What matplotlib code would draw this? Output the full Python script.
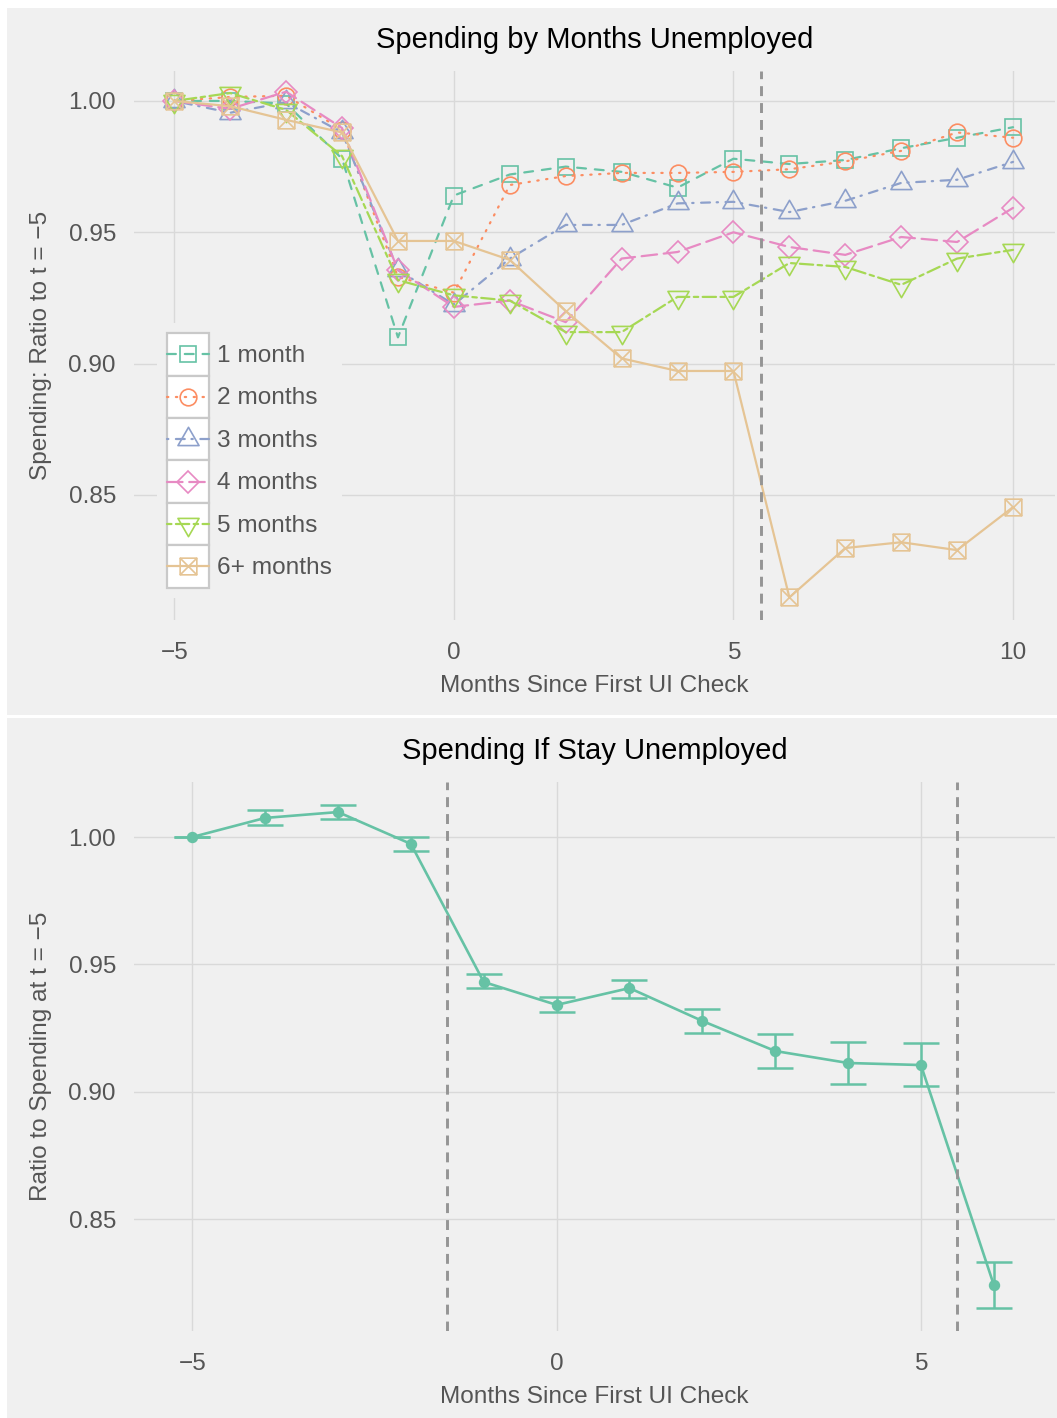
import numpy as np
import matplotlib
matplotlib.use("Agg")
import matplotlib.pyplot as plt
from matplotlib.path import Path
from matplotlib.patches import Rectangle
from matplotlib.lines import Line2D
from matplotlib.legend_handler import HandlerLine2D

plt.rcParams['font.family'] = ['Liberation Sans', 'DejaVu Sans']

# ---------------- data ----------------
months = [-5, -4, -3, -2, -1, 0, 1, 2, 3, 4, 5, 6, 7, 8, 9, 10]
group_labels = ["1 month", "2 months", "3 months", "4 months", "5 months", "6+ months"]
m1 = [1.000, 1.000, 0.999, 0.978, 0.910, 0.964, 0.972, 0.975, 0.973, 0.967, 0.978, 0.976, 0.9775, 0.982, 0.986, 0.990]
m2 = [1.000, 1.0015, 1.002, 0.989, 0.933, 0.927, 0.968, 0.9714, 0.9726, 0.9726, 0.973, 0.974, 0.977, 0.981, 0.988, 0.986]
m3 = [1.000, 0.9955, 0.9995, 0.988, 0.9356, 0.9225, 0.940, 0.9528, 0.9528, 0.961, 0.9616, 0.9577, 0.962, 0.9688, 0.970, 0.9768]
m4 = [1.000, 0.997, 1.0035, 0.9897, 0.9356, 0.9216, 0.924, 0.9158, 0.940, 0.9425, 0.950, 0.9444, 0.9414, 0.9482, 0.9463, 0.9593]
m5 = [1.000, 1.003, 0.9966, 0.979, 0.9318, 0.926, 0.924, 0.912, 0.912, 0.9254, 0.9254, 0.9383, 0.9368, 0.930, 0.940, 0.9433]
m6 = [1.000, 0.998, 0.9928, 0.988, 0.9467, 0.9467, 0.9395, 0.920, 0.902, 0.8972, 0.8972, 0.811, 0.8298, 0.832, 0.829, 0.8454]
series = [m1, m2, m3, m4, m5, m6]

stay_months = [-5, -4, -3, -2, -1, 0, 1, 2, 3, 4, 5, 6]
stay_mean = [1.000, 1.0075, 1.0098, 0.9973, 0.9431, 0.9341, 0.9407, 0.9278, 0.916, 0.9113, 0.9105, 0.8242]
stay_lo = [1.000, 1.0047, 1.0071, 0.9945, 0.9407, 0.9313, 0.9368, 0.9231, 0.9093, 0.9031, 0.9023, 0.8151]
stay_hi = [1.000, 1.0106, 1.0126, 1.000, 0.9462, 0.9372, 0.9439, 0.9325, 0.9227, 0.9195, 0.9191, 0.8332]

top_vline = [5.5]
bottom_vlines = [-1.5, 5.5]
xticks_top = [-5, 0, 5, 10]
xticks_bottom = [-5, 0, 5]
yticks = [0.85, 0.90, 0.95, 1.00]

# ---------------- styles ----------------
colors = ["#66c2a5", "#fc8d62", "#8da0cb", "#e78ac3", "#a6d854", "#e5c494"]
C = Path.CLOSEPOLY
M, L = Path.MOVETO, Path.LINETO
tri_up = Path([(0, 1), (-0.866, -0.5), (0.866, -0.5), (0, 1)], [M, L, L, C])
tri_dn = Path([(0, -1), (-0.866, 0.5), (0.866, 0.5), (0, -1)], [M, L, L, C])
boxx = Path([(-0.5, -0.5), (0.5, -0.5), (0.5, 0.5), (-0.5, 0.5), (-0.5, -0.5),
             (-0.5, -0.5), (0.5, 0.5), (-0.5, 0.5), (0.5, -0.5)],
            [M, L, L, L, C, M, L, M, L])
markers = ['s', 'o', tri_up, 'D', tri_dn, boxx]
msizes = [12.2, 12.0, 17.5, 11.2, 17.5, 12.0]
dashes = [(0, (4, 4)), (0, (0.6, 3.4)), (0, (0.6, 3.4, 4, 3)), (0, (7, 3)), (0, (2, 2, 6, 2)), '-']

BG = "#f0f0f0"
GRID = "#d9d9d9"
TXT = "#555555"
VCOL = "#959595"
FS = 17.6

fig = plt.figure(figsize=(10.57, 14.18), dpi=100)
fig.patch.set_facecolor("white")
W, H = 1057.0, 1418.0
fig.add_artist(Rectangle((7 / W, 1 - 715 / H), 1, (715 - 8) / H, transform=fig.transFigure,
                         facecolor=BG, edgecolor='none', zorder=0))
fig.add_artist(Rectangle((7 / W, 0), 1, (H - 718) / H, transform=fig.transFigure,
                         facecolor=BG, edgecolor='none', zorder=0))

ax1 = fig.add_axes([134 / W, 1 - 620 / H, (1055 - 134) / W, (620 - 71) / H])
ax2 = fig.add_axes([134 / W, 1 - 1331 / H, (1055 - 134) / W, (1331 - 782) / H])


def style_axes(ax):
    ax.set_facecolor(BG)
    for s in ax.spines.values():
        s.set_visible(False)
    ax.grid(True, color=GRID, linewidth=1.0)
    ax.set_axisbelow(True)
    ax.tick_params(length=0, labelsize=FS, labelcolor=TXT)
    ax.tick_params(axis='x', pad=16)
    ax.tick_params(axis='y', pad=13)
    ax.set_yticks(yticks)
    ax.set_yticklabels([f"{v:.2f}" for v in yticks])


# ---------------- top panel ----------------
style_axes(ax1)
for i, ys in enumerate(series):
    ax1.plot(months, ys, color=colors[i], linewidth=1.6, linestyle=dashes[i],
             dash_capstyle='round', solid_capstyle='round',
             marker=markers[i], markersize=msizes[i], markerfacecolor='none',
             markeredgecolor=colors[i], markeredgewidth=1.2, label=group_labels[i], zorder=3)
for v in top_vline:
    ax1.axvline(v, color=VCOL, linewidth=2.1, linestyle=(0, (3.4, 2.4)), zorder=4)
ax1.set_xticks(xticks_top)
ax1.set_xlim(-5.72, 10.75)
ax1.set_ylim(0.8024, 1.0114)
ax1.set_title("Spending by Months Unemployed", fontsize=21, color='black', pad=16.5)
ax1.set_xlabel("Months Since First UI Check", fontsize=FS, color=TXT, labelpad=8)
ax1.set_ylabel("Spending: Ratio to t = \u22125", fontsize=FS, color=TXT, labelpad=12)


class BoxedHandler(HandlerLine2D):
    def create_artists(self, legend, orig_handle, xdescent, ydescent, width, height,
                       fontsize, trans):
        arts = super().create_artists(legend, orig_handle, xdescent, ydescent, width,
                                      height, fontsize, trans)
        yc = -ydescent + height / 2.0
        for a in arts:
            if isinstance(a, Line2D):
                a.set_ydata(np.full_like(np.asarray(a.get_xdata(), dtype=float), yc))
        box = Rectangle((-xdescent, -ydescent), width, height, facecolor='white',
                        edgecolor='#c9c9c9', linewidth=1.6, transform=trans)
        return [box] + list(arts)


leg = ax1.legend(loc='upper left', bbox_to_anchor=(0.025, 0.541), borderaxespad=0,
                 fontsize=FS, numpoints=1, handlelength=1.72, handleheight=2.29,
                 labelspacing=0.0, handletextpad=0.3, borderpad=0.42,
                 frameon=True, fancybox=False, facecolor=BG, edgecolor='none', framealpha=1,
                 handler_map={Line2D: BoxedHandler()})
for t in leg.get_texts():
    t.set_color(TXT)

# ---------------- bottom panel ----------------
style_axes(ax2)
mean = np.array(stay_mean)
err = [mean - np.array(stay_lo), np.array(stay_hi) - mean]
ax2.errorbar(stay_months, stay_mean, yerr=err, fmt='-o', color=colors[0], linewidth=1.9,
             markersize=7.2, elinewidth=1.8, capsize=13, capthick=1.8, zorder=3)
for v in bottom_vlines:
    ax2.axvline(v, color=VCOL, linewidth=2.1, linestyle=(0, (3.4, 2.4)), zorder=4)
ax2.set_xticks(xticks_bottom)
ax2.set_xlim(-5.8, 6.84)
ax2.set_ylim(0.8061, 1.0216)
ax2.set_title("Spending If Stay Unemployed", fontsize=21, color='black', pad=16.5)
ax2.set_xlabel("Months Since First UI Check", fontsize=FS, color=TXT, labelpad=8)
ax2.set_ylabel("Ratio to Spending at t = \u22125", fontsize=FS, color=TXT, labelpad=12)

fig.savefig("out.png", dpi=100, facecolor=fig.get_facecolor())
